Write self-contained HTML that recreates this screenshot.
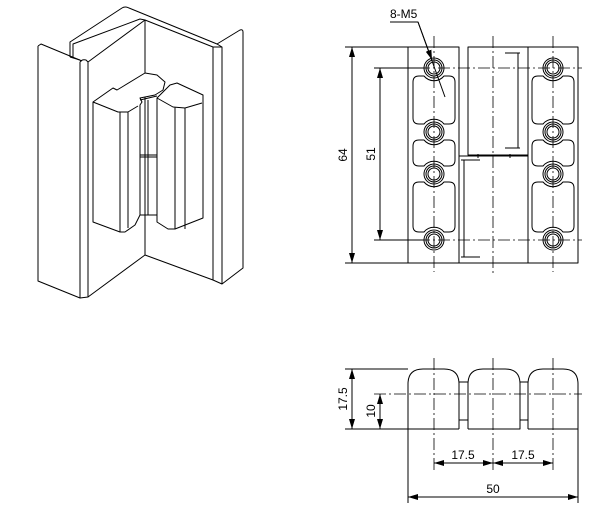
<!DOCTYPE html>
<html><head><style>html,body{margin:0;padding:0;background:#fff}svg{display:block}</style></head><body>
<svg width="600" height="510" viewBox="0 0 600 510" xmlns="http://www.w3.org/2000/svg" font-family="Liberation Sans, sans-serif">
<defs>
<marker id="a" viewBox="0 0 10 6" refX="10" refY="3" markerWidth="10" markerHeight="6" orient="auto-start-reverse" markerUnits="userSpaceOnUse"><path d="M0,0 L10,3 L0,6 Z" fill="#000"/></marker>
</defs>
<g fill="none" stroke="#000" stroke-width="1" stroke-linejoin="round">
<!-- ISO view -->
<path d="M38,46 L41,44 L82,61 M38,46 L38,281 L80,298 L80,62"/>
<path d="M80,62 Q82,59 86,60 L88,62 L88,297 L80,298"/>
<path d="M70,57 L70,42 L122,8 Q125,6 129,8 L217,44 L240,30 Q243,29 243,32 L243,268 L222,284 L222,47 L217,44"/>
<path d="M70,57 L80,60"/>
<path d="M73,57 L73,44 L140,19 L145,20"/>
<path d="M88,62 L145,20 L213,47 L222,47"/>
<path d="M213,47 L213,280 L222,284"/>
<path d="M145,20 L145,255 L88,297 M145,255 L213,280"/>
<!-- left block -->
<path d="M93,102 L113,88 L117,90 L122,87 L145,73 L157,75 L165,82 L163,90 L155,95 L145,97 L140,98 L142,102 L140,105 L140,215 L135,225 L125,232 L120,232 L93,222 Z" fill="#fff"/>
<path d="M93,102 L118,112 L128,112 L138,106 M120,112 L120,232 M128,112 L128,228"/>
<!-- pin -->
<path d="M140,100 L157,96 M140,155 L157,155 M140,157 L157,157 M140,215 L157,215 M148,100 L148,215"/>
<!-- right block -->
<path d="M157,98 L157,222 L168,229 L175,229 L203,218 L203,95 L177,83 L170,85 Z" fill="#fff"/>
<path d="M157,98 L173,107 L185,108 L202,103 M185,108 L185,229 M175,107 L175,229"/>
<!-- front view leaves -->
<rect x="408" y="47" width="51" height="216"/>
<path d="M468,47 L528,47 L528,155 L468,155 Z"/>
<path d="M459,156 L528,156 L528,263 L459,263 Z"/>
<rect x="528" y="47" width="50" height="216"/>
<path d="M505,53 L520,53 M518,53 L518,148 M505,148 L520,148 M461,160 L480,160 M464,160 L464,257 M461,257 L480,257 M478,154 L478,158 M510,154 L510,158"/>
<!-- pockets left -->
<path d="M419,76 L424,76 A13 13 0 0 0 444,76 L449,76 Q455,76 455,82 L455,118 Q455,124 449,124 L444,124 A13 13 0 0 0 424,124 L419,124 Q413,124 413,118 L413,82 Q413,76 419,76 Z"/>
<path d="M419,140 L424,140 A13 13 0 0 0 444,140 L449,140 Q455,140 455,146 L455,160 Q455,166 449,166 L444,166 A13 13 0 0 0 424,166 L419,166 Q413,166 413,160 L413,146 Q413,140 419,140 Z"/>
<path d="M419,182 L424,182 A13 13 0 0 0 444,182 L449,182 Q455,182 455,188 L455,226 Q455,232 449,232 L444,232 A13 13 0 0 0 424,232 L419,232 Q413,232 413,226 L413,188 Q413,182 419,182 Z"/>
<!-- pockets right -->
<path d="M538,76 L543,76 A13 13 0 0 0 563,76 L568,76 Q574,76 574,82 L574,118 Q574,124 568,124 L563,124 A13 13 0 0 0 543,124 L538,124 Q532,124 532,118 L532,82 Q532,76 538,76 Z"/>
<path d="M538,140 L543,140 A13 13 0 0 0 563,140 L568,140 Q574,140 574,146 L574,160 Q574,166 568,166 L563,166 A13 13 0 0 0 543,166 L538,166 Q532,166 532,160 L532,146 Q532,140 538,140 Z"/>
<path d="M538,182 L543,182 A13 13 0 0 0 563,182 L568,182 Q574,182 574,188 L574,226 Q574,232 568,232 L563,232 A13 13 0 0 0 543,232 L538,232 Q532,232 532,226 L532,188 Q532,182 538,182 Z"/>
<!-- holes -->
<g>
<circle cx="434" cy="68" r="10"/><circle cx="434" cy="68" r="8"/><circle cx="434" cy="68" r="6"/>
<circle cx="434" cy="132" r="10"/><circle cx="434" cy="132" r="8"/><circle cx="434" cy="132" r="6"/>
<circle cx="434" cy="174" r="10"/><circle cx="434" cy="174" r="8"/><circle cx="434" cy="174" r="6"/>
<circle cx="434" cy="240" r="10"/><circle cx="434" cy="240" r="8"/><circle cx="434" cy="240" r="6"/>
<circle cx="553" cy="68" r="10"/><circle cx="553" cy="68" r="8"/><circle cx="553" cy="68" r="6"/>
<circle cx="553" cy="132" r="10"/><circle cx="553" cy="132" r="8"/><circle cx="553" cy="132" r="6"/>
<circle cx="553" cy="174" r="10"/><circle cx="553" cy="174" r="8"/><circle cx="553" cy="174" r="6"/>
<circle cx="553" cy="240" r="10"/><circle cx="553" cy="240" r="8"/><circle cx="553" cy="240" r="6"/>
</g>
<!-- centerlines -->
<g stroke-dasharray="12 3 2 3" stroke-width="0.8">
<path d="M434,36 L434,272 M493,36 L493,276 M553,36 L553,272"/>
<path d="M378,68 L582,68 M378,240 L582,240"/>
</g>
<!-- dims front -->
<path d="M345,47 L408,47 M345,263 L408,263 M374,68 L424,68 M374,240 L424,240"/>
<path d="M352,47 L352,263" marker-start="url(#a)" marker-end="url(#a)"/>
<path d="M380,68 L380,240" marker-start="url(#a)" marker-end="url(#a)"/>
<path d="M390,22 L418,22 L445,97" />
<path d="M418,22 L432,60" marker-end="url(#a)"/>
<!-- bottom view -->
<path d="M408,429 L408,384 Q408,369 423,369 L444,369 Q459,369 459,384 L459,429"/>
<path d="M468,429 L468,384 Q468,369 483,369 L505,369 Q520,369 520,384 L520,429 L468,429"/>
<path d="M528,429 L528,384 Q528,369 543,369 L563,369 Q578,369 578,384 L578,429 L528,429"/>
<path d="M459,382 L468,382 M459,420 L468,420 M520,382 L528,382 M520,420 L528,420"/>
<path d="M345,429 L459,429 M345,369 L408,369"/>
<g stroke-dasharray="12 3 2 3" stroke-width="0.8">
<path d="M374,394 L582,394"/>
<path d="M434,358 L434,470 M493,358 L493,470 M553,358 L553,470"/>
</g>
<path d="M352,369 L352,429" marker-start="url(#a)" marker-end="url(#a)"/>
<path d="M380,394 L380,429" marker-start="url(#a)" marker-end="url(#a)"/>
<path d="M434,463 L493,463" marker-start="url(#a)" marker-end="url(#a)"/>
<path d="M493,463 L553,463" marker-start="url(#a)" marker-end="url(#a)"/>
<path d="M408,429 L408,503 M578,429 L578,503"/>
<path d="M408,497 L578,497" marker-start="url(#a)" marker-end="url(#a)"/>
</g>
<g font-size="12" fill="#000">
<text x="390" y="18">8-M5</text>
<text transform="translate(347,155) rotate(-90)" text-anchor="middle">64</text>
<text transform="translate(375,154) rotate(-90)" text-anchor="middle">51</text>
<text transform="translate(347,399) rotate(-90)" text-anchor="middle">17.5</text>
<text transform="translate(375,411) rotate(-90)" text-anchor="middle">10</text>
<text x="463" y="459" text-anchor="middle">17.5</text>
<text x="523" y="459" text-anchor="middle">17.5</text>
<text x="493" y="493" text-anchor="middle">50</text>
</g>
</svg>
</body></html>
